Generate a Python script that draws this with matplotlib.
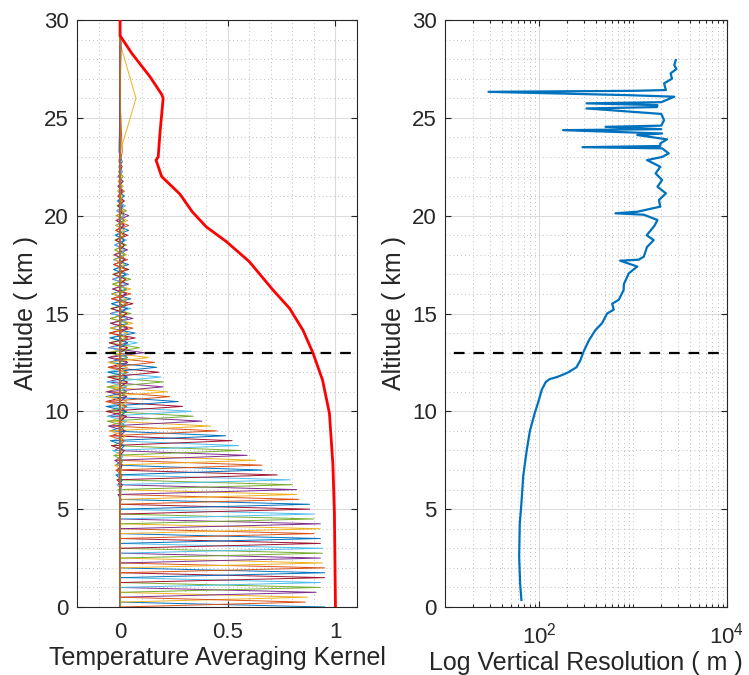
import numpy as np
import matplotlib
matplotlib.use("Agg")
import matplotlib.pyplot as plt

plt.rcParams['font.family'] = ['Liberation Sans', 'DejaVu Sans']
plt.rcParams['mathtext.default'] = 'regular'

# retrieval levels (km): 0.25 km spacing up to 22.75, coarse above
levels = np.concatenate([np.arange(0, 23, 0.25), [23.25, 26.0, 28.8, 30.0]])

# kernel peak value on the diagonal, one per level
peaks = [0.95, 0.86, 0.87, 0.91, 0.93, 0.93, 0.95, 0.95,      # 0 - 1.75
         0.95, 0.94, 0.93, 0.94, 0.94, 0.93, 0.93, 0.90,      # 2 - 3.75
         0.93, 0.93, 0.90, 0.90, 0.88, 0.88, 0.83, 0.82,      # 4 - 5.75
         0.82, 0.80, 0.79, 0.73, 0.66, 0.66, 0.63, 0.59,      # 6 - 7.75
         0.56, 0.55, 0.52, 0.49, 0.45, 0.42, 0.38, 0.34,      # 8 - 9.75
         0.33, 0.29, 0.27, 0.23, 0.22, 0.20, 0.20, 0.19,      # 10 - 11.75
         0.18, 0.17, 0.16, 0.13, 0.11, 0.09, 0.08, 0.07,      # 12 - 13.75
         0.07, 0.06, 0.06, 0.06, 0.05, 0.05, 0.06, 0.05,      # 14 - 15.75
         0.05, 0.05, 0.04, 0.05, 0.04, 0.04, 0.04, 0.035,     # 16 - 17.75
         0.03, 0.035, 0.03, 0.03, 0.035, 0.04, 0.04, 0.035,   # 18 - 19.75
         0.04, 0.03, 0.025, 0.02, 0.02, 0.02, 0.015, 0.015,   # 20 - 21.75
         0.015, 0.01, 0.01, 0.01,                             # 22 - 22.75
         0.01, 0.074, 0.005, 0.0]                             # 23.25, 26, 28.8, 30

# first side lobe (one level above / below the peak)
lobe1 = [0, 0, 0, 0, 0, 0, 0, 0,
         0, 0, 0, 0, 0, 0, 0, 0,
         0, 0, 0, 0, 0, 0, 0, 0,
         -0.01, -0.01, -0.015, -0.015, -0.02, -0.02, -0.025, -0.025,
         -0.03, -0.035, -0.04, -0.045, -0.05, -0.05, -0.055, -0.06,
         -0.06, -0.065, -0.065, -0.065, -0.06, -0.06, -0.06, -0.06,
         -0.055, -0.055, -0.055, -0.055, -0.055, -0.05, -0.05, -0.05,
         -0.045, -0.045, -0.045, -0.045, -0.045, -0.04, -0.04, -0.04,
         -0.035, -0.035, -0.035, -0.035, -0.03, -0.03, -0.03, -0.03,
         -0.025, -0.025, -0.025, -0.025, -0.02, -0.02, -0.02, -0.02,
         -0.015, -0.015, -0.015, -0.01, -0.01, -0.01, -0.01, -0.01,
         -0.005, -0.005, -0.005, -0.005,
         0, 0, 0, 0]

# second side lobe (two levels above / below the peak)
lobe2 = [0, 0, 0, 0, 0, 0, 0, 0,
         0, 0, 0, 0, 0, 0, 0, 0,
         0, 0, 0, 0, 0, 0, 0, 0,
         0.005, 0.005, 0.01, 0.01, 0.01, 0.01, 0.01, 0.01,
         0.015, 0.015, 0.02, 0.02, 0.02, 0.025, 0.025, 0.025,
         0.03, 0.03, 0.03, 0.03, 0.03, 0.03, 0.03, 0.03,
         0.035, 0.035, 0.035, 0.035, 0.035, 0.035, 0.035, 0.035,
         0.035, 0.035, 0.035, 0.035, 0.035, 0.03, 0.03, 0.03,
         0.03, 0.03, 0.03, 0.03, 0.025, 0.025, 0.025, 0.025,
         0.02, 0.02, 0.02, 0.02, 0.02, 0.02, 0.02, 0.02,
         0.015, 0.015, 0.015, 0.01, 0.01, 0.01, 0.01, 0.01,
         0, 0, 0, 0,
         0, 0, 0, 0]

# row sum of the kernel (red curve)
red_alt = [0.0, 2.0, 4.8, 7.3, 9.9, 11.6, 13.0, 14.15, 15.26, 16.2, 17.65, 18.67,
           19.43, 20.2, 21.1, 22.0, 22.84, 23.0, 24.2, 26.0, 26.2, 27.1, 28.3, 29.2, 30.0]
red_val = [1.0, 0.998, 0.995, 0.988, 0.972, 0.94, 0.895, 0.849, 0.787, 0.71, 0.60, 0.494,
           0.40, 0.335, 0.278, 0.193, 0.167, 0.177, 0.185, 0.2, 0.193, 0.139, 0.054, 0.0, 0.0]

# vertical resolution (m) vs altitude (km)
res_alt = [0.36, 1.2, 2.6, 4.3, 5.3, 6.7, 8.0, 9.0, 9.9, 10.6, 11.1, 11.5, 11.65, 11.75,
           11.9, 12.0, 12.25, 12.6, 13.05, 13.6, 14.15, 14.5, 15.0, 15.2, 15.5, 15.7,
           16.2, 16.5, 17.05, 17.4, 17.7, 17.75, 17.9, 18.4, 18.75, 19.0, 19.26, 19.5,
           19.78, 20.05, 20.12, 20.2, 20.46, 20.8, 21.14, 21.48, 21.82, 22.16, 22.5,
           22.84, 23.0, 23.18, 23.44, 23.5, 23.56, 23.69, 23.9, 24.12, 24.2, 24.37,
           24.42, 24.54, 24.6, 24.88, 25.2, 25.48, 25.55, 25.65, 25.74, 25.8, 26.08,
           26.16, 26.33, 26.38, 26.42, 26.76, 27.0, 27.27, 27.5, 27.69, 27.95]
res_val = [65, 63, 61.5, 62.5, 65, 68, 74, 80, 90, 100, 107, 118, 130, 155,
           185, 206, 250, 275, 298, 337, 398, 468, 530, 624, 600, 705,
           795, 800, 900, 1110, 730, 1150, 1300, 1410, 1660, 1400, 1550, 1700,
           1820, 1300, 650, 1110, 1950, 1890, 2240, 1820, 2040, 1740, 1950,
           1410, 2040, 2400, 2040, 290, 1950, 1950, 2300, 1110, 2040, 180,
           2000, 510, 2000, 2140, 2000, 320, 1800, 1820, 320, 2000, 2750,
           870, 29, 1000, 2240, 2140, 2600, 2510, 2900, 2750, 2850]

cutoff_alt = 13.0

matlab_colors = ['#0072BD', '#D95319', '#EDB120', '#7E2F8E',
                 '#77AC30', '#4DBEEE', '#A2142F']
text_col = '#262626'


def style_axes(ax):
    """MATLAB-like box, inward ticks and grids"""
    for sp in ax.spines.values():
        sp.set_color(text_col)
        sp.set_linewidth(0.8)
    ax.tick_params(which='both', direction='in', top=True, right=True,
                   colors=text_col, labelsize=16, width=0.8)
    ax.tick_params(which='major', length=4.5)
    ax.tick_params(axis='x', which='major', pad=11)
    ax.tick_params(axis='y', which='major', pad=6)
    ax.grid(True, which='major', color='#dcdcdc', linewidth=0.8)
    ax.grid(True, which='minor', color='#bdbdbd', linestyle=(0, (1, 3)), linewidth=0.7)
    ax.set_axisbelow(True)


fig = plt.figure(figsize=(7.49, 6.75), dpi=100)
ax1 = fig.add_axes([77 / 749, 68 / 675, 280 / 749, 587 / 675])
ax2 = fig.add_axes([445 / 749, 68 / 675, 282 / 749, 587 / 675])

# averaging kernel rows
n = len(levels)
kernel = np.zeros((n, n))
for i in range(n):
    kernel[i, i] = peaks[i]
    for off, lobe in ((1, lobe1[i]), (2, lobe2[i])):
        if i - off >= 0:
            kernel[i, i - off] = lobe
        if i + off < n:
            kernel[i, i + off] = lobe
for i in range(n):
    # the orange 0.25 km row ends up on top along the zero line, as in the original
    ax1.plot(kernel[i], levels, color=matlab_colors[i % 7], linewidth=0.7,
             zorder=2.1 if i == 1 else 2)
ax1.plot(red_val, red_alt, color='#FF0000', linewidth=2.0, zorder=3)
ax1.axhline(cutoff_alt, color='black', linewidth=1.6, linestyle=(4.8, (4.8, 4.0)), zorder=3)

ax1.set_xlim(-0.2, 1.1)
ax1.set_ylim(0, 30)
ax1.set_xticks([0, 0.5, 1])
ax1.set_xticklabels(['0', '0.5', '1'])
ax1.set_yticks(range(0, 31, 5))
ax1.set_xticks(np.arange(-0.2, 1.11, 0.1), minor=True)
ax1.set_yticks(range(0, 31), minor=True)
style_axes(ax1)
ax1.tick_params(which='minor', length=0)
ax1.set_xlabel('Temperature Averaging Kernel', fontsize=18, color=text_col, labelpad=2)
ax1.set_ylabel('Altitude ( km )', fontsize=18, color=text_col, labelpad=4)

# vertical resolution
ax2.plot(res_val, res_alt, color='#0072BD', linewidth=1.6)
ax2.axhline(cutoff_alt, color='black', linewidth=1.6, linestyle=(4.8, (4.8, 4.0)))
ax2.set_xscale('log')
ax2.set_xlim(10, 1e4)
ax2.set_ylim(0, 30)
ax2.set_xticks([1e2, 1e4])
ax2.set_xticklabels(['$10^{2}$', '$10^{4}$'])
minor_x = [m * 10 ** k for k in (1, 2, 3) for m in range(1, 10)
           if m * 10 ** k not in (100, 10000) and not (k == 1 and m == 1)]
ax2.set_xticks(minor_x, minor=True)
ax2.set_xticklabels([], minor=True)
ax2.set_yticks(range(0, 31, 5))
ax2.set_yticks(range(0, 31), minor=True)
style_axes(ax2)
ax2.tick_params(axis='x', which='minor', length=2.5)
ax2.tick_params(axis='y', which='minor', length=0)
ax2.set_xlabel('Log Vertical Resolution ( m )', fontsize=18, color=text_col, labelpad=2)
ax2.set_ylabel('Altitude ( km )', fontsize=18, color=text_col, labelpad=4)

fig.savefig('out.png', dpi=100)
